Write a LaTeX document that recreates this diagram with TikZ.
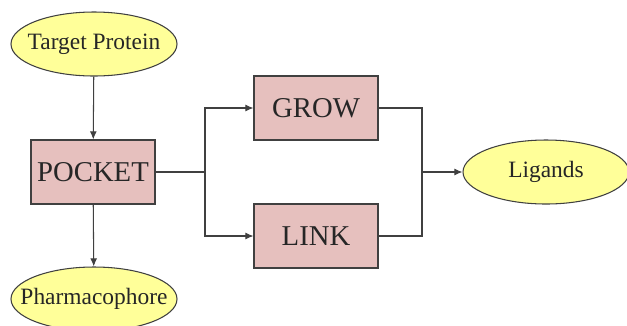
\documentclass[tikz,border=0pt]{standalone}
\usepackage{fontspec}
\setmainfont{Liberation Serif}
\usetikzlibrary{shapes.geometric, arrows.meta}

\definecolor{ellfill}{HTML}{FFFF99}
\definecolor{boxfill}{HTML}{E6C0BE}
\definecolor{edgegray}{HTML}{404040}

\tikzset{
  ell/.style={ellipse, draw=edgegray, fill=ellfill, line width=0.9pt,
    minimum width=4.98cm, minimum height=1.92cm, inner sep=0pt,
    execute at begin node={\hbox to 0pt\bgroup\hss},
    execute at end node={\hss\egroup},
    font=\fontsize{20}{24}\selectfont, text=black!85},
  blk/.style={rectangle, draw=edgegray, fill=boxfill, line width=0.9pt,
    minimum width=3.72cm, minimum height=1.92cm, inner sep=0pt,
    font=\fontsize{24.5}{28}\selectfont, text=black!85},
  conn/.style={draw=edgegray, line width=0.9pt},
  arr/.style={conn, -{Latex[length=7pt,width=6pt]}}
}

\begin{document}
\begin{tikzpicture}[x=0.03cm,y=-0.03cm]
\useasboundingbox (0,0) rectangle (627,325);

% left column
\node[ell] (target) at (94,44) {Target Protein};
\node[blk] (pocket) at (93,172) {POCKET};
\node[ell] (pharma) at (94,299) {Pharmacophore};

% middle boxes
\node[blk] (grow) at (316,108) {GROW};
\node[blk] (link) at (316,236) {LINK};

% result
\node[ell] (lig) at (546,172) {Ligands};

\coordinate (split) at (205,172);
\coordinate (join) at (422,172);

\draw[arr] (target) -- (pocket);
\draw[arr] (pocket) -- (pharma);
\draw[conn] (pocket.east) -- (split);
\draw[arr] (split) |- (grow.west);
\draw[arr] (split) |- (link.west);
\draw[conn] (grow.east) -| (join);
\draw[conn] (link.east) -| (join);
\draw[arr] (join) -- (lig.west);
\end{tikzpicture}
\end{document}
